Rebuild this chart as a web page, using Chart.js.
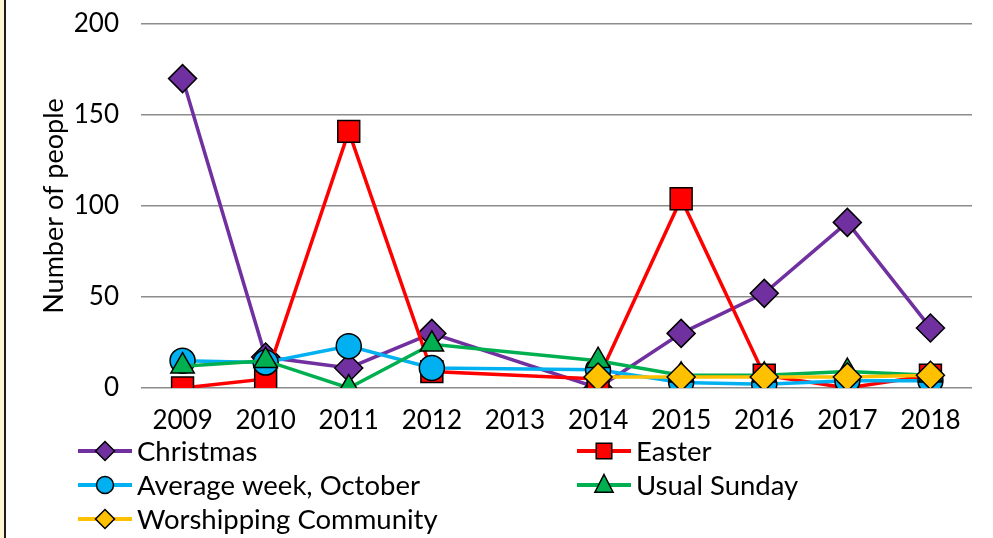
<!DOCTYPE html>
<html>
<head>
<meta charset="utf-8">
<script src="https://cdn.jsdelivr.net/npm/chart.js@4/dist/chart.umd.min.js"></script>
<style>
  html, body { margin: 0; padding: 0; background: #fff; }
  #wrap { position: relative; width: 993px; height: 538px; overflow: hidden; }
  #strip { position: absolute; left: 0; top: 0; width: 4px; height: 538px; background: #FFF6D6; border-right: 2px solid #1c1c1c; }
  #myChart { position: absolute; left: 0; top: 0; }
</style>
</head>
<body>
<div id="wrap">
  <canvas id="myChart" width="993" height="538"></canvas>
  <div id="strip"></div>
</div>
<script>
const years = ['2009', '2010', '2011', '2012', '2013', '2014', '2015', '2016', '2017', '2018'];
const christmas = [170, 17, 11, 30, null, 0, 30, 52, 91, 33];
const easter = [0, 5, 141, 9, null, 5, 104, 7, 0, 7];
const averageWeek = [15, 14, 23, 11, null, 10, 3, 2, 4, 4];
const usualSunday = [12, 15, 0, 24, null, 15, 7, 7, 9, 7];
const worshipping = [null, null, null, null, null, 6, 6, 6, 6, 7];
const yTicks = [0, 50, 100, 150, 200];

const FONT = 'Lato, "Noto Sans", sans-serif';

function series(label, values, color, shape, radius, order) {
  return {
    label: label,
    data: values,
    borderColor: color,
    backgroundColor: color,
    borderWidth: 3.5,
    pointStyle: shape,
    pointRadius: radius,
    pointHoverRadius: radius,
    pointBackgroundColor: color,
    pointBorderColor: '#000',
    pointBorderWidth: 1.5,
    spanGaps: true,
    tension: 0,
    order: order
  };
}

const data = {
  labels: years,
  datasets: [
    series('Christmas', christmas, '#7030A0', 'rectRot', 14, 5),
    series('Easter', easter, '#FF0000', 'rect', 15.5, 4),
    series('Average week, October', averageWeek, '#00B0F0', 'circle', 12.5, 3),
    series('Usual Sunday', usualSunday, '#00B050', 'triangle', 13.5, 2),
    series('Worshipping Community', worshipping, '#FFC000', 'rectRot', 14, 1)
  ]
};

// legend laid out in two columns like the original
const legendSlots = [
  { x: 78, y: 451 }, { x: 577, y: 451 },
  { x: 78, y: 485 }, { x: 577, y: 485 },
  { x: 78, y: 519 }
];
const legendRadius = { rectRot: 9.5, rect: 11, circle: 8.5, triangle: 10.5 };

function drawMarker(ctx, style, x, y, r) {
  ctx.beginPath();
  if (style === 'circle') {
    ctx.arc(x, y, r, 0, Math.PI * 2);
  } else if (style === 'rect') {
    const s = Math.SQRT1_2 * r;
    ctx.rect(x - s, y - s, 2 * s, 2 * s);
  } else if (style === 'rectRot') {
    ctx.moveTo(x, y - r); ctx.lineTo(x + r, y); ctx.lineTo(x, y + r); ctx.lineTo(x - r, y);
  } else if (style === 'triangle') {
    ctx.moveTo(x, y - r);
    ctx.lineTo(x + r * Math.sin(Math.PI / 3), y + r * 0.5 + 2);
    ctx.lineTo(x - r * Math.sin(Math.PI / 3), y + r * 0.5 + 2);
  }
  ctx.closePath();
  ctx.fill();
  ctx.stroke();
}

const columnLegend = {
  id: 'columnLegend',
  afterDraw(chart) {
    const ctx = chart.ctx;
    ctx.save();
    chart.data.datasets.forEach((ds, i) => {
      const p = legendSlots[i];
      ctx.strokeStyle = ds.borderColor;
      ctx.lineWidth = 4;
      ctx.beginPath();
      ctx.moveTo(p.x, p.y);
      ctx.lineTo(p.x + 54, p.y);
      ctx.stroke();
      ctx.fillStyle = ds.pointBackgroundColor;
      ctx.strokeStyle = '#000';
      ctx.lineWidth = 1.5;
      drawMarker(ctx, ds.pointStyle, p.x + 27, p.y, legendRadius[ds.pointStyle]);
      ctx.fillStyle = '#000';
      ctx.font = '27.5px ' + FONT;
      ctx.textBaseline = 'middle';
      ctx.fillText(ds.label, p.x + 59, p.y + 1);
    });
    ctx.restore();
  }
};

const config = {
  type: 'line',
  data: data,
  options: {
    responsive: false,
    animation: false,
    layout: { padding: { top: 24, right: 21, bottom: 0, left: 0 } },
    plugins: {
      legend: { display: false },
      tooltip: { enabled: false }
    },
    scales: {
      x: {
        offset: true,
        grid: { display: false },
        border: { display: false },
        ticks: { color: '#000', font: { family: FONT, size: 26 }, padding: 9, maxRotation: 0 },
        afterFit: (s) => { s.height = 150; s.paddingLeft = 0; s.paddingRight = 0; }
      },
      y: {
        min: 0,
        max: 200,
        afterBuildTicks: (s) => { s.ticks = yTicks.map(v => ({ value: v })); },
        grid: { color: '#8c8c8c', lineWidth: 1.5, drawTicks: false },
        border: { display: false },
        ticks: { color: '#000', font: { family: FONT, size: 26 }, padding: 22 },
        title: {
          display: true,
          text: 'Number of people',
          color: '#000',
          font: { family: FONT, size: 27 },
          padding: { top: 38, bottom: 0 }
        },
        afterFit: (s) => { s.width = 141; s.paddingTop = 0; s.paddingBottom = 0; }
      }
    }
  },
  plugins: [columnLegend]
};

const myChart = new Chart(
  document.getElementById('myChart'),
  config
);
</script>
</body>
</html>
